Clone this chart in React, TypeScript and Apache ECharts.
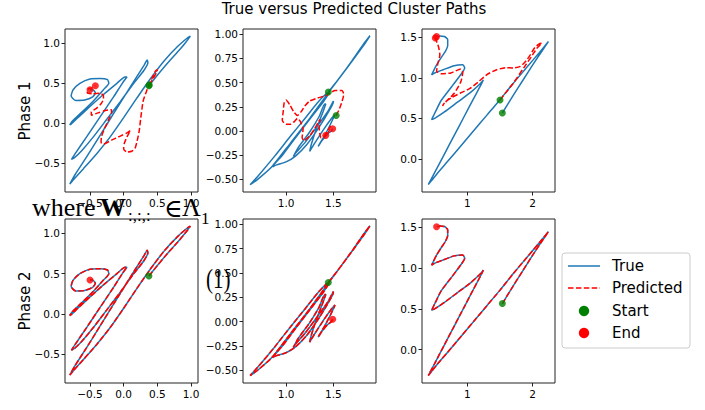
import React, { useEffect, useRef } from "react";
import * as echarts from "echarts";

type Pt = [number, number];

const chartTitle = "True versus Predicted Cluster Paths";
const phaseLabels = ["Phase 1", "Phase 2"];
const legendNames = ["True", "Predicted", "Start", "End"];

// ---- cluster 1 ----
const trueCluster1: Pt[] = [
  [0.375, 0.47], [0.5, 0.6], [0.65, 0.75], [0.8, 0.89], [0.93, 1.02], [0.99, 1.09],
  [0.95, 1.07], [0.8, 0.96], [0.6, 0.78], [0.4, 0.56], [0.2, 0.32], [0.0, 0.07], [-0.2, -0.17], [-0.4, -0.38], [-0.6, -0.57], [-0.75, -0.71], [-0.8, -0.76],
  [-0.72, -0.64], [-0.55, -0.42], [-0.35, -0.15], [-0.15, 0.12], [0.05, 0.39], [0.2, 0.59], [0.3, 0.72], [0.35, 0.79],
  [0.36, 0.76], [0.3, 0.66], [0.15, 0.5], [-0.05, 0.27], [-0.25, 0.05], [-0.45, -0.17], [-0.62, -0.34], [-0.73, -0.43], [-0.775, -0.45],
  [-0.72, -0.38], [-0.55, -0.17], [-0.35, 0.08], [-0.15, 0.33], [-0.02, 0.5], [0.04, 0.57], [0.05, 0.58],
  [0.02, 0.58], [-0.1, 0.5], [-0.3, 0.36], [-0.5, 0.21], [-0.68, 0.07], [-0.78, -0.01], [-0.8, -0.02],
  [-0.77, 0.02], [-0.62, 0.14], [-0.45, 0.28], [-0.3, 0.42], [-0.22, 0.5], [-0.24, 0.545], [-0.35, 0.56], [-0.5, 0.555],
  [-0.65, 0.5], [-0.75, 0.42], [-0.78, 0.34], [-0.71, 0.285], [-0.58, 0.29], [-0.46, 0.33], [-0.42, 0.38], [-0.46, 0.42], [-0.5, 0.42],
];
const predPhase1Cluster1: Pt[] = [
  [0.38, 0.48], [0.44, 0.56], [0.49, 0.64], [0.5, 0.67], [0.47, 0.65], [0.42, 0.56], [0.37, 0.47], [0.33, 0.38],
  [0.29, 0.28], [0.27, 0.17], [0.25, 0.04], [0.23, -0.1], [0.2, -0.22], [0.17, -0.31], [0.12, -0.35], [0.05, -0.36],
  [0.0, -0.32], [0.01, -0.25], [0.05, -0.17], [0.1, -0.09], [0.05, -0.12], [-0.05, -0.16], [-0.18, -0.21], [-0.3, -0.26],
  [-0.335, -0.24], [-0.33, -0.17], [-0.28, -0.06], [-0.22, 0.05], [-0.18, 0.13], [-0.18, 0.17], [-0.27, 0.16], [-0.38, 0.13],
  [-0.48, 0.1], [-0.48, 0.14], [-0.4, 0.19], [-0.33, 0.25], [-0.3, 0.31], [-0.3, 0.35], [-0.36, 0.375], [-0.46, 0.37],
  [-0.54, 0.38], [-0.54, 0.42], [-0.48, 0.44], [-0.42, 0.47],
];

// ---- cluster 2 ----
const trueCluster2: Pt[] = [
  [1.447, 0.403], [1.55, 0.53], [1.7, 0.73], [1.82, 0.9], [1.887, 0.985],
  [1.83, 0.9], [1.65, 0.66], [1.45, 0.4], [1.25, 0.13], [1.05, -0.12], [0.85, -0.37], [0.7, -0.5], [0.62, -0.555],
  [0.7, -0.47], [0.88, -0.26], [1.05, -0.05], [1.2, 0.13], [1.33, 0.29], [1.43, 0.39], [1.46, 0.4],
  [1.4, 0.31], [1.25, 0.12], [1.1, -0.07], [0.97, -0.24], [0.88, -0.34], [0.86, -0.37],
  [0.9, -0.35], [1.0, -0.32], [1.1, -0.26], [1.22, -0.14], [1.35, 0.04], [1.45, 0.2], [1.5, 0.3], [1.5, 0.31],
  [1.44, 0.2], [1.33, 0.05], [1.2, -0.12], [1.1, -0.23], [1.077, -0.264],
  [1.13, -0.17], [1.25, -0.01], [1.35, 0.15], [1.41, 0.28], [1.42, 0.28],
  [1.38, 0.17], [1.32, 0.02], [1.27, -0.13], [1.25, -0.21],
  [1.3, -0.13], [1.4, 0.02], [1.48, 0.13], [1.518, 0.17],
  [1.47, 0.07], [1.4, -0.06], [1.35, -0.14], [1.34, -0.16],
  [1.38, -0.1], [1.44, -0.03], [1.48, 0.0], [1.493, 0.024],
];
const predPhase1Cluster2: Pt[] = [
  [1.53, 0.16], [1.56, 0.22], [1.59, 0.3], [1.61, 0.38], [1.59, 0.42], [1.52, 0.42], [1.43, 0.37], [1.33, 0.34],
  [1.25, 0.31], [1.2, 0.26], [1.16, 0.2], [1.12, 0.16], [1.08, 0.2], [1.04, 0.27], [1.0, 0.32], [0.98, 0.29],
  [0.97, 0.2], [0.96, 0.11], [1.0, 0.07], [1.05, 0.07], [1.09, 0.1], [1.12, 0.13], [1.15, 0.1], [1.18, 0.02],
  [1.17, -0.07], [1.19, -0.1], [1.25, -0.05], [1.3, 0.02], [1.34, 0.09], [1.36, 0.12], [1.35, 0.03], [1.37, -0.07],
  [1.41, -0.05], [1.45, 0.02], [1.47, 0.05], [1.45, -0.01], [1.42, -0.045],
];

// ---- cluster 3 ----
const trueCluster3: Pt[] = [
  [1.536, 0.566], [1.7, 0.78], [1.85, 0.97], [2.0, 1.16], [2.15, 1.34], [2.24, 1.447],
  [2.1, 1.31], [1.9, 1.12], [1.7, 0.93], [1.5, 0.73], [1.3, 0.54], [1.1, 0.35], [0.9, 0.16], [0.7, -0.03], [0.55, -0.17], [0.45, -0.27], [0.403, -0.316],
  [0.5, -0.17], [0.65, 0.06], [0.8, 0.29], [0.95, 0.52], [1.1, 0.75], [1.2, 0.9], [1.245, 0.975],
  [1.2, 0.93], [1.05, 0.82], [0.85, 0.7], [0.65, 0.58], [0.5, 0.5], [0.454, 0.484],
  [0.5, 0.56], [0.6, 0.72], [0.76, 0.89], [0.91, 1.05], [0.96, 1.12], [0.93, 1.16], [0.8, 1.15], [0.63, 1.1], [0.5, 1.06], [0.454, 1.037],
  [0.48, 1.08], [0.53, 1.16], [0.6, 1.25], [0.66, 1.32], [0.7, 1.4], [0.7, 1.47], [0.65, 1.51], [0.58, 1.515], [0.53, 1.508],
];
const predPhase1Cluster3: Pt[] = [
  [1.5, 0.727], [1.58, 0.81], [1.7, 0.93], [1.86, 1.12], [1.98, 1.26], [2.06, 1.36], [2.14, 1.426], [2.1, 1.42],
  [2.03, 1.37], [1.96, 1.28], [1.9, 1.21], [1.81, 1.14], [1.7, 1.12], [1.6, 1.126], [1.45, 1.1], [1.3, 1.04],
  [1.17, 0.95], [1.04, 0.87], [0.89, 0.81], [0.76, 0.756], [0.66, 0.7], [0.62, 0.655], [0.68, 0.71], [0.8, 0.81],
  [0.9, 0.95], [0.93, 1.07], [0.9, 1.11], [0.75, 1.06], [0.6, 1.05], [0.53, 1.08], [0.55, 1.18], [0.58, 1.28],
  [0.56, 1.38], [0.51, 1.49],
];

// Phase 2 predictions trace the true paths
const predPhase2Cluster1: Pt[] = trueCluster1;
const predPhase2Cluster2: Pt[] = trueCluster2;
const predPhase2Cluster3: Pt[] = trueCluster3;

// tick values
const xTicks1 = [-0.5, 0, 0.5, 1];
const yTicks1 = [-0.5, 0, 0.5, 1];
const xTicks2 = [1, 1.5];
const yTicks2 = [-0.5, -0.25, 0, 0.25, 0.5, 0.75, 1];
const xTicks3 = [1, 2];
const yTicks3 = [0, 0.5, 1, 1.5];

const BLUE = "#1f77b4";
const RED = "#ff0000";
const GREEN = "#008000";
const FONT = "DejaVu Sans";

const fmt = (d: number) => (v: number) => (v < 0 ? "\u2212" : "") + Math.abs(v).toFixed(d);

type Panel = {
  left: number; top: number; height: number;
  xr: [number, number]; yr: [number, number];
  xt: number[]; yt: number[]; xd: number; yd: number;
  tru: Pt[]; pred: Pt[]; phase1: boolean;
};

const colLeft = [65, 243, 422];
const rowTop = [29, 219];
const rowH = [163, 164];
const ranges: { xr: [number, number]; yr: [number, number]; xt: number[]; yt: number[]; xd: number; yd: number }[] = [
  { xr: [-0.871, 1.104], yr: [-0.859, 1.179], xt: xTicks1, yt: yTicks1, xd: 1, yd: 1 },
  { xr: [0.545, 1.951], yr: [-0.631, 1.055], xt: xTicks2, yt: yTicks2, xd: 1, yd: 2 },
  { xr: [0.307, 2.341], yr: [-0.408, 1.602], xt: xTicks3, yt: yTicks3, xd: 0, yd: 1 },
];
const truePaths = [trueCluster1, trueCluster2, trueCluster3];
const predPaths = [
  [predPhase1Cluster1, predPhase1Cluster2, predPhase1Cluster3],
  [predPhase2Cluster1, predPhase2Cluster2, predPhase2Cluster3],
];

const panels: Panel[] = [];
for (let r = 0; r < 2; r++) {
  for (let c = 0; c < 3; c++) {
    panels.push({
      left: colLeft[c], top: rowTop[r], height: rowH[r],
      ...ranges[c],
      tru: truePaths[c], pred: predPaths[r][c], phase1: r === 0,
    });
  }
}

function buildOption() {
  const grid: any[] = [];
  const xAxis: any[] = [];
  const yAxis: any[] = [];
  const series: any[] = [];
  panels.forEach((p, i) => {
    grid.push({ left: p.left, top: p.top, width: 133, height: p.height, show: true, borderColor: "#222", borderWidth: 1, containLabel: false });
    const common = {
      type: "value",
      gridIndex: i,
      axisLine: { show: false, onZero: false },
      splitLine: { show: false },
      axisTick: { show: true, length: 3.5, lineStyle: { color: "#222", width: 1 } },
    };
    xAxis.push({
      ...common, min: p.xr[0], max: p.xr[1],
      axisTick: { ...common.axisTick, customValues: p.xt },
      axisLabel: { customValues: p.xt, formatter: fmt(p.xd), fontSize: 10.5, color: "#000", fontFamily: FONT, margin: 5 },
    });
    yAxis.push({
      ...common, min: p.yr[0], max: p.yr[1],
      axisTick: { ...common.axisTick, customValues: p.yt },
      axisLabel: { customValues: p.yt, formatter: fmt(p.yd), fontSize: 10.5, color: "#000", fontFamily: FONT, margin: 5 },
    });
    series.push({
      type: "line", name: legendNames[0], xAxisIndex: i, yAxisIndex: i, data: p.tru, symbol: "none", showSymbol: false,
      smooth: 0.2, lineStyle: { color: BLUE, width: 1.5 }, z: 2, silent: true,
    });
    series.push({
      type: "line", name: legendNames[1], xAxisIndex: i, yAxisIndex: i, data: p.pred, symbol: "none", showSymbol: false,
      smooth: 0.2, lineStyle: { color: RED, width: 1.5, type: [5.5, 2.4] }, z: 3, silent: true,
    });
    const starts = p.phase1 ? [p.tru[0], p.pred[0]] : [p.tru[0]];
    const ends = p.phase1 ? [p.tru[p.tru.length - 1], p.pred[p.pred.length - 1]] : [p.tru[p.tru.length - 1]];
    series.push({
      type: "scatter", name: legendNames[2], xAxisIndex: i, yAxisIndex: i, data: starts, symbolSize: 7,
      itemStyle: { color: GREEN }, z: 4, silent: true,
    });
    series.push({
      type: "scatter", name: legendNames[3], xAxisIndex: i, yAxisIndex: i, data: ends, symbolSize: 7,
      itemStyle: { color: RED }, z: 5, silent: true,
    });
  });

  const legendY = [266, 288, 311, 333];
  const graphic: any[] = [
    {
      type: "text", x: 354, y: 8.5, z: 50,
      style: { text: chartTitle, fontSize: 15, fontFamily: FONT, fill: "#000", align: "center", verticalAlign: "middle", textAlign: "center", textVerticalAlign: "middle" },
    },
    ...phaseLabels.map((t, k) => ({
      type: "text", x: 25, y: k === 0 ? 111 : 301, rotation: Math.PI / 2, z: 50,
      style: { text: t, fontSize: 15, fontFamily: FONT, fill: "#000", align: "center", verticalAlign: "middle", textAlign: "center", textVerticalAlign: "middle" },
    })),
    {
      type: "rect", z: 60,
      shape: { x: 562, y: 253, width: 128, height: 95, r: 3 },
      style: { fill: "rgba(255,255,255,0.8)", stroke: "#cccccc", lineWidth: 1 },
    },
    { type: "line", z: 61, shape: { x1: 568, y1: legendY[0], x2: 600, y2: legendY[0] }, style: { stroke: BLUE, lineWidth: 1.5 } },
    { type: "line", z: 61, shape: { x1: 568, y1: legendY[1], x2: 600, y2: legendY[1] }, style: { stroke: RED, lineWidth: 1.5, lineDash: [5.5, 2.4] } },
    { type: "circle", z: 61, shape: { cx: 584, cy: legendY[2], r: 5.2 }, style: { fill: GREEN } },
    { type: "circle", z: 61, shape: { cx: 584, cy: legendY[3], r: 5.2 }, style: { fill: RED } },
    ...legendNames.map((t, k) => ({
      type: "text", x: 612, y: legendY[k], z: 62,
      style: { text: t, fontSize: 15, fontFamily: FONT, fill: "#000", align: "left", verticalAlign: "middle", textAlign: "left", textVerticalAlign: "middle" },
    })),
    // stray math text overlapping the figure
    { type: "text", x: 32, y: 207, z: 70, style: { text: "where", fontSize: 26, fontFamily: "Liberation Serif", fill: "#000", align: "left", verticalAlign: "middle" } },
    { type: "text", x: 100, y: 207, z: 70, style: { text: "W", fontSize: 26, fontWeight: "bold", fontFamily: "Liberation Serif", fill: "#000", align: "left", verticalAlign: "middle" } },
    { type: "text", x: 128, y: 215, z: 70, style: { text: ":,:,:", fontSize: 17, fontFamily: "Liberation Serif", fill: "#000", align: "left", verticalAlign: "middle" } },
    { type: "text", x: 164, y: 208, z: 70, style: { text: "\u2208", fontSize: 25, fontFamily: "DejaVu Serif", fill: "#000", align: "left", verticalAlign: "middle" } },
    { type: "text", x: 182, y: 207, z: 70, style: { text: "\u039B", fontSize: 26, fontFamily: "Liberation Serif", fill: "#000", align: "left", verticalAlign: "middle" } },
    { type: "text", x: 201, y: 218, z: 70, style: { text: "1", fontSize: 17, fontFamily: "Liberation Serif", fill: "#000", align: "left", verticalAlign: "middle" } },
    { type: "text", x: 206, y: 278, scaleX: 0.75, z: 70, style: { text: "(1)", fontSize: 28, fontFamily: "Liberation Serif", fill: "#000", align: "left", verticalAlign: "middle" } },
  ];

  return {
    animation: false,
    backgroundColor: "#ffffff",
    textStyle: { fontFamily: FONT },
    grid, xAxis, yAxis, series, graphic,
  };
}

export default function App() {
  const ref = useRef<HTMLDivElement>(null);
  useEffect(() => {
    if (!ref.current) return;
    const chart = echarts.init(ref.current, undefined, { renderer: "svg" });
    chart.setOption(buildOption() as any);
    return () => chart.dispose();
  }, []);
  return (
    <div
      ref={ref}
      style={{ position: "fixed", left: 0, top: 0, width: 705, height: 410, background: "#fff" }}
    />
  );
}
